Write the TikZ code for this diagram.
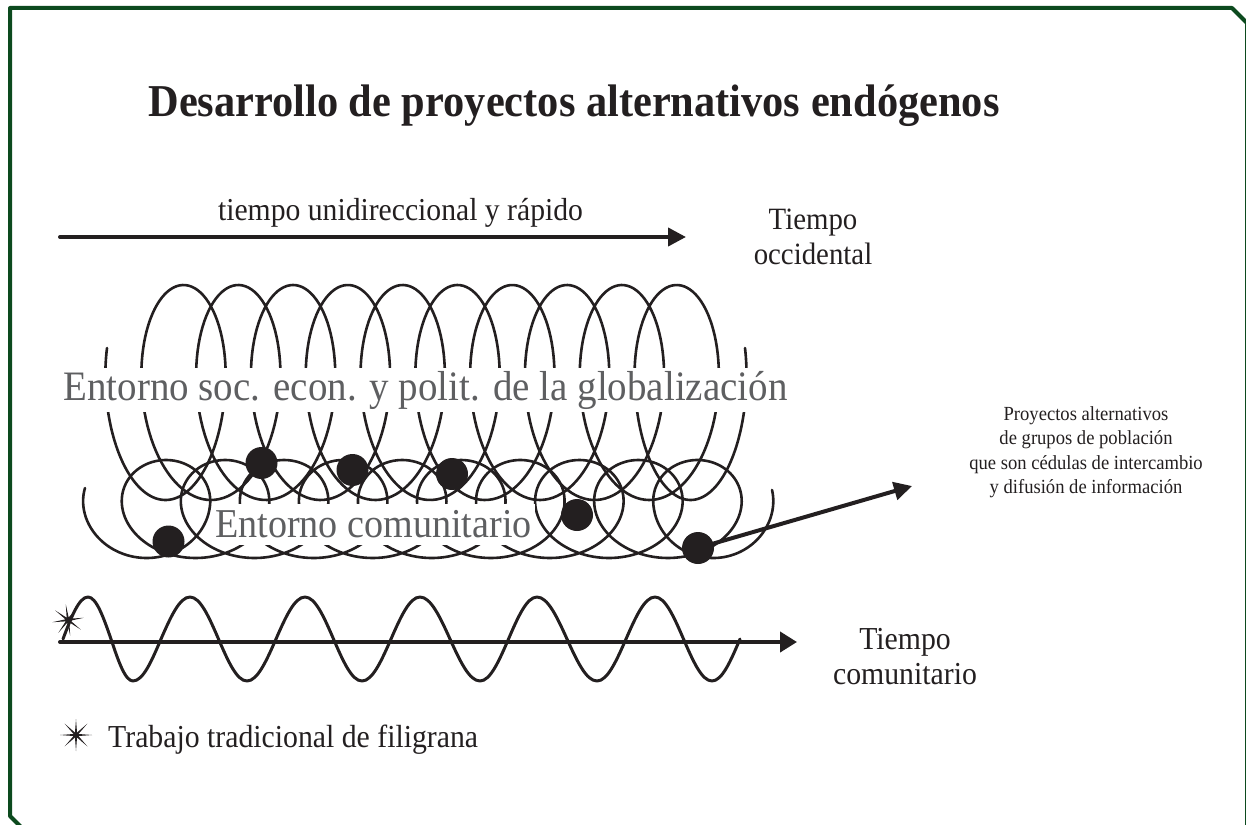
\documentclass[tikz,border=0pt]{standalone}
\usepackage{fontspec}
\setmainfont{Liberation Serif}[FakeStretch=0.93]
\usetikzlibrary{arrows.meta,shapes.geometric}
\definecolor{ink}{RGB}{35,31,32}
\definecolor{framegreen}{RGB}{12,74,30}
\definecolor{textgray}{RGB}{94,95,97}
\newcommand{\fsz}[1]{\fontsize{#1}{#1}\selectfont}
\begin{document}
\begin{tikzpicture}[x=1pt,y=-1pt,line cap=round,line join=round,
  coil/.style={ink,line width=2.6pt},
  arrowline/.style={ink,line width=4pt,-{Triangle[length=18pt,width=18pt]}},
  lbl/.style={text=ink,anchor=base,inner sep=0pt},
  bigtxt/.style={text=textgray,fill=white,anchor=base,inner ysep=0pt,inner xsep=3pt},
  dotnode/.style={circle,fill=ink,minimum size=32pt,inner sep=0pt},
  starnode/.style={star,star points=8,star point ratio=6,minimum size=32pt,inner sep=0pt,fill=ink}]
\useasboundingbox (0,0) rectangle (1246,824);
\clip (0,0) rectangle (1246,824);
% frame
\draw[framegreen,line width=4pt] (34,840) -- (10,816) -- (10,8) -- (1232,8) -- (1247,23) -- (1247,830);
% title
\node[lbl,font=\fsz{45.6}\bfseries] (title) at (574,117) {Desarrollo de proyectos alternativos endógenos};
% western time
\node[lbl,font=\fsz{31.9}] (tuni) at (400.5,220) {tiempo unidireccional y rápido};
\coordinate (a1s) at (60,237);
\coordinate (a1e) at (686,237);
\draw[arrowline] (a1s) -- (a1e);
\node[lbl,font=\fsz{31}] (occ1) at (813,229) {Tiempo};
\node[lbl,font=\fsz{31}] (occ2) at (813,264) {occidental};
% upper coil
\draw[coil] plot[domain=-1.5708:58.1195,samples=900] ({183.5+54.8*\x/6.28319-55.2*sin(\x r)},{392.5-107.5*cos(\x r)});
\draw[coil] plot[domain=-5.139:-1.5708,samples=80] ({225+0.864*(183.5+54.8*\x/6.28319-55.2*sin(\x r)-225)},{392.5-107.5*cos(\x r)});
\draw[coil] plot[domain=58.1195:61.688,samples=80] ({635.2+0.804*(183.5+54.8*\x/6.28319-55.2*sin(\x r)-635.2)},{392.5-107.5*cos(\x r)});
% lower coil
\draw[coil] plot[domain=-1.5708:58.1195,samples=900] ({166+59.05*\x/6.28319-58.26*sin(\x r)},{509-49*cos(\x r)});
\draw[coil] plot[domain=-5.155:-1.5708,samples=80] ({209.5+0.861*(166+59.05*\x/6.28319-58.26*sin(\x r)-209.5)},{509-49*cos(\x r)});
\draw[coil] plot[domain=58.1195:61.66,samples=80] ({653.95+0.813*(166+59.05*\x/6.28319-58.26*sin(\x r)-653.95)},{509-49*cos(\x r)});
% gray labels with white knock-out
\node[bigtxt,font=\fsz{41.9},text height=32.5pt,text depth=11.5pt] (glob) at (425.5,400.5) {Entorno soc. econ. y polit. de la globalización};
\node[bigtxt,font=\fsz{41},text height=33pt,text depth=8pt] (com) at (373.5,537) {Entorno comunitario};
% dots
\node[dotnode] (d1) at (261.5,463) {};
\node[dotnode] (d2) at (352.5,470) {};
\node[dotnode] (d3) at (452,474) {};
\node[dotnode] (d4) at (577,515) {};
\node[dotnode] (d5) at (168.5,541.5) {};
\node[dotnode] (d6) at (698,548) {};
\coordinate (ptip) at (912,486);
\draw[arrowline] (d6.center) -- (ptip);
% projects text
\node[lbl,font=\fsz{20}] (p1) at (1086,420) {Proyectos alternativos};
\node[lbl,font=\fsz{20}] (p2) at (1086,444.5) {de grupos de población};
\node[lbl,font=\fsz{20}] (p3) at (1086,469) {que son cédulas de intercambio};
\node[lbl,font=\fsz{20}] (p4) at (1086,493.5) {y difusión de información};
% community time
\coordinate (a2s) at (60,642);
\coordinate (a2e) at (797,642);
\draw[ink,line width=4pt,-{Triangle[length=17pt,width=20pt]}] (a2s) -- (a2e);
\draw[ink,line width=3pt] (63,639) sin (88,597) cos (111,639) sin (133,681) cos (161,639)
  sin (190,597) cos (218.5,639) sin (247,681) cos (276,639)
  sin (305,597) cos (333.5,639) sin (362,681) cos (391,639)
  sin (420,597) cos (450,639) sin (480,681) cos (508.5,639)
  sin (537,597) cos (567,639) sin (597,681) cos (626,639)
  sin (655,597) cos (683.5,639) sin (712,681) cos (740,639);
\node[starnode,rotate=8] (s1) at (68,620) {};
\node[lbl,font=\fsz{32}] (tc1) at (905,649) {Tiempo};
\node[lbl,font=\fsz{32}] (tc2) at (905,684) {comunitario};
% legend
\node[starnode] (s2) at (76,735) {};
\node[lbl,font=\fsz{32},anchor=base west] (leg) at (108,747) {Trabajo tradicional de filigrana};
\end{tikzpicture}
\end{document}
